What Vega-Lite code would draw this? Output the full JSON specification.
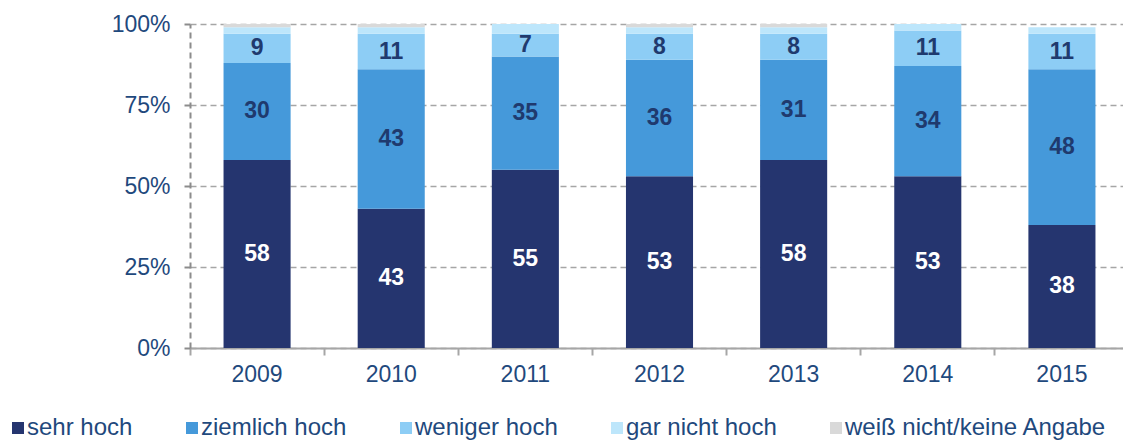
{
  "$schema": "https://vega.github.io/schema/vega-lite/v6.json",
  "width": 933,
  "height": 324,
  "autosize": {"type": "none"},
  "padding": {"left": 190, "top": 24, "right": 0, "bottom": 92},
  "background": "white",
  "config": {
    "view": {"stroke": null},
    "font": "Liberation Sans"
  },
  "data": {
    "values": [
      {"year": "2009", "cat": "sehr hoch", "rank": 1, "value": 58},
      {"year": "2009", "cat": "ziemlich hoch", "rank": 2, "value": 30},
      {"year": "2009", "cat": "weniger hoch", "rank": 3, "value": 9},
      {"year": "2009", "cat": "gar nicht hoch", "rank": 4, "value": 2},
      {"year": "2009", "cat": "weiß nicht/keine Angabe", "rank": 5, "value": 1},
      {"year": "2010", "cat": "sehr hoch", "rank": 1, "value": 43},
      {"year": "2010", "cat": "ziemlich hoch", "rank": 2, "value": 43},
      {"year": "2010", "cat": "weniger hoch", "rank": 3, "value": 11},
      {"year": "2010", "cat": "gar nicht hoch", "rank": 4, "value": 2},
      {"year": "2010", "cat": "weiß nicht/keine Angabe", "rank": 5, "value": 1},
      {"year": "2011", "cat": "sehr hoch", "rank": 1, "value": 55},
      {"year": "2011", "cat": "ziemlich hoch", "rank": 2, "value": 35},
      {"year": "2011", "cat": "weniger hoch", "rank": 3, "value": 7},
      {"year": "2011", "cat": "gar nicht hoch", "rank": 4, "value": 3},
      {"year": "2011", "cat": "weiß nicht/keine Angabe", "rank": 5, "value": 0},
      {"year": "2012", "cat": "sehr hoch", "rank": 1, "value": 53},
      {"year": "2012", "cat": "ziemlich hoch", "rank": 2, "value": 36},
      {"year": "2012", "cat": "weniger hoch", "rank": 3, "value": 8},
      {"year": "2012", "cat": "gar nicht hoch", "rank": 4, "value": 2},
      {"year": "2012", "cat": "weiß nicht/keine Angabe", "rank": 5, "value": 1},
      {"year": "2013", "cat": "sehr hoch", "rank": 1, "value": 58},
      {"year": "2013", "cat": "ziemlich hoch", "rank": 2, "value": 31},
      {"year": "2013", "cat": "weniger hoch", "rank": 3, "value": 8},
      {"year": "2013", "cat": "gar nicht hoch", "rank": 4, "value": 2},
      {"year": "2013", "cat": "weiß nicht/keine Angabe", "rank": 5, "value": 1},
      {"year": "2014", "cat": "sehr hoch", "rank": 1, "value": 53},
      {"year": "2014", "cat": "ziemlich hoch", "rank": 2, "value": 34},
      {"year": "2014", "cat": "weniger hoch", "rank": 3, "value": 11},
      {"year": "2014", "cat": "gar nicht hoch", "rank": 4, "value": 2},
      {"year": "2014", "cat": "weiß nicht/keine Angabe", "rank": 5, "value": 0},
      {"year": "2015", "cat": "sehr hoch", "rank": 1, "value": 38},
      {"year": "2015", "cat": "ziemlich hoch", "rank": 2, "value": 48},
      {"year": "2015", "cat": "weniger hoch", "rank": 3, "value": 11},
      {"year": "2015", "cat": "gar nicht hoch", "rank": 4, "value": 2},
      {"year": "2015", "cat": "weiß nicht/keine Angabe", "rank": 5, "value": 0}
    ]
  },
  "transform": [
    {"stack": "value", "groupby": ["year"], "sort": [{"field": "rank", "order": "ascending"}], "as": ["v0", "v1"]}
  ],
  "encoding": {
    "x": {
      "field": "year",
      "type": "nominal",
      "scale": {"range": [0, 939], "paddingInner": 0, "paddingOuter": 0},
      "axis": {
        "title": null,
        "labelAngle": 0,
        "labelFontSize": 23,
        "labelColor": "#1F497D",
        "labelPadding": 8,
        "bandPosition": 0,
        "tickSize": 7,
        "tickColor": "#A6A6A6",
        "tickWidth": 2,
        "domainColor": "#A6A6A6",
        "domainWidth": 2,
        "grid": false
      }
    }
  },
  "layer": [
    {
      "mark": {"type": "bar", "width": {"band": 0.5}},
      "encoding": {
        "y": {
          "field": "v0",
          "type": "quantitative",
          "scale": {"domain": [0, 100], "nice": false},
          "axis": {
            "title": null,
            "values": [0, 25, 50, 75, 100],
            "labelExpr": "datum.value + '%'",
            "labelFontSize": 23,
            "labelColor": "#1F497D",
            "labelPadding": 14,
            "tickSize": 6,
            "tickColor": "#8C8C8C",
            "tickWidth": 2,
            "domainColor": "#8C8C8C",
            "domainWidth": 2,
            "domainDash": [6, 4],
            "grid": true,
            "gridColor": "#A6A6A6",
            "gridWidth": 1.5,
            "gridDash": [6, 4]
          }
        },
        "y2": {"field": "v1"},
        "color": {
          "field": "cat",
          "type": "nominal",
          "scale": {
            "domain": ["sehr hoch", "ziemlich hoch", "weniger hoch", "gar nicht hoch", "weiß nicht/keine Angabe"],
            "range": ["#25356F", "#4599DA", "#8DCDF5", "#BDE6FB", "#D9D9D9"]
          },
          "legend": {
            "title": null,
            "orient": "none",
            "direction": "horizontal",
            "legendX": -184,
            "legendY": 392,
            "padding": 0,
            "symbolType": "square",
            "symbolSize": 144,
            "symbolStrokeWidth": 0,
            "symbolOpacity": 1,
            "labelFontSize": 24,
            "labelColor": "#1F497D",
            "labelOffset": -3,
            "columnPadding": 47,
            "labelLimit": 400
          }
        }
      }
    },
    {
      "transform": [
        {"filter": "datum.rank <= 3"},
        {"fold": ["v0", "v1"], "as": ["edge", "pos"]}
      ],
      "mark": {"type": "text", "fontSize": 23, "fontWeight": "bold", "align": "center", "baseline": "middle"},
      "encoding": {
        "y": {"aggregate": "mean", "field": "pos", "type": "quantitative"},
        "detail": {"field": "cat", "type": "nominal"},
        "text": {"field": "value", "type": "quantitative"},
        "color": {
          "condition": {"test": "datum.cat == 'sehr hoch'", "value": "white"},
          "value": "#1F3A6E"
        }
      }
    }
  ]
}
